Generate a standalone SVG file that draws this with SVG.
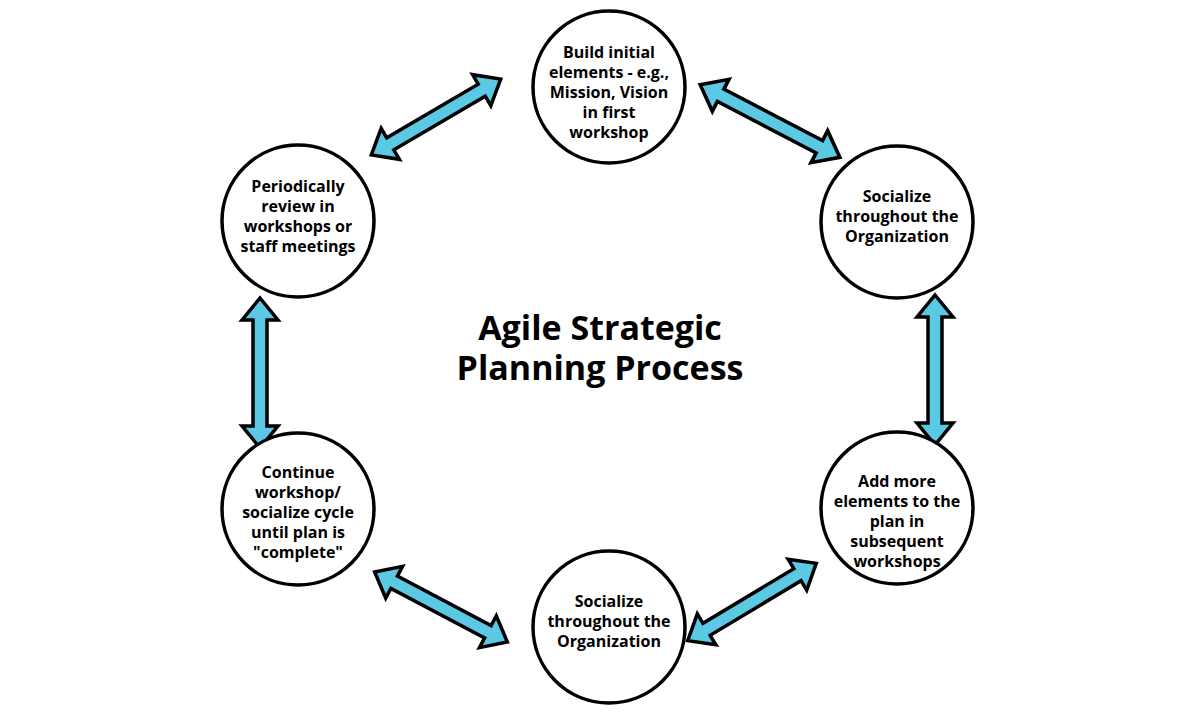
<svg xmlns="http://www.w3.org/2000/svg" xmlns:xlink="http://www.w3.org/1999/xlink" width="1200" height="720" viewBox="0 0 1200 720">
<style>
.n{fill:#fff;stroke:#000;stroke-width:3.5}
.t{font-family:"Open Sans",sans-serif;font-weight:bold;font-size:16px;text-anchor:middle;fill:#000}
.a{fill:#5bc8e4;stroke:#000;stroke-width:3.5;stroke-linejoin:miter}
</style>
<defs>
<path id="arr" class="a" d="M-75,0 L-53,-18 L-53,-7 L53,-7 L53,-18 L75,0 L53,18 L53,7 L-53,7 L-53,18 Z"/>
</defs>
<rect width="1200" height="720" fill="#fff"/>
<g id="connectors">
<use xlink:href="#arr" transform="translate(436,117) rotate(-30.4)"/>
<use xlink:href="#arr" transform="translate(770,121) rotate(27.5) scale(1.05,1)"/>
<use xlink:href="#arr" transform="translate(935,370) rotate(90)"/>
<use xlink:href="#arr" transform="translate(752,602) rotate(-31)"/>
<use xlink:href="#arr" transform="translate(441,607) rotate(27.8)"/>
<use xlink:href="#arr" transform="translate(260,373) rotate(90)"/>
</g>
<g id="n1"><circle class="n" cx="609" cy="87" r="76"/>
<text class="t" x="609" y="58">Build initial</text><text class="t" x="609" y="78">elements - e.g.,</text><text class="t" x="609" y="98">Mission, Vision</text><text class="t" x="609" y="118">in first</text><text class="t" x="609" y="138">workshop</text></g>
<g id="n2"><circle class="n" cx="897" cy="222" r="76"/>
<text class="t" x="897" y="202">Socialize</text><text class="t" x="897" y="222">throughout the</text><text class="t" x="897" y="242">Organization</text></g>
<g id="n3"><circle class="n" cx="897" cy="508" r="76"/>
<text class="t" x="897" y="487">Add more</text><text class="t" x="897" y="507">elements to the</text><text class="t" x="897" y="527">plan in</text><text class="t" x="897" y="547">subsequent</text><text class="t" x="897" y="567">workshops</text></g>
<g id="n4"><circle class="n" cx="609" cy="627" r="76"/>
<text class="t" x="609" y="607">Socialize</text><text class="t" x="609" y="627">throughout the</text><text class="t" x="609" y="647">Organization</text></g>
<g id="n5"><circle class="n" cx="298" cy="509" r="76"/>
<text class="t" x="298" y="478">Continue</text><text class="t" x="298" y="498">workshop/</text><text class="t" x="298" y="518">socialize cycle</text><text class="t" x="298" y="538">until plan is</text><text class="t" x="298" y="558">"complete"</text></g>
<g id="n6"><circle class="n" cx="298" cy="221" r="76"/>
<text class="t" x="298" y="192">Periodically</text><text class="t" x="298" y="212">review in</text><text class="t" x="298" y="232">workshops or</text><text class="t" x="298" y="252">staff meetings</text></g>
<g id="title"><text class="t" style="font-size:34px" x="600" y="340">Agile Strategic</text><text class="t" style="font-size:34px" x="600" y="380">Planning Process</text></g>
</svg>
